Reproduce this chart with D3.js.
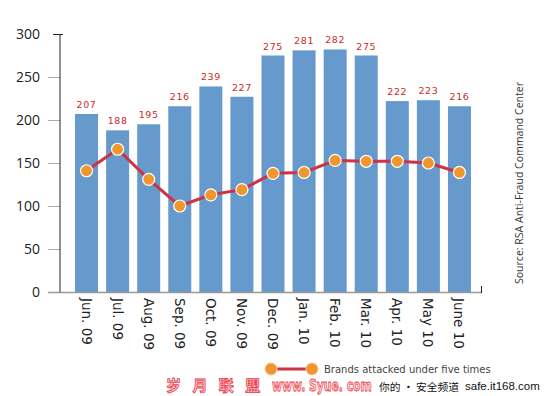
<!DOCTYPE html>
<html>
<head>
<meta charset="utf-8">
<script src="https://cdn.jsdelivr.net/npm/d3@7"></script>
<style>
  body { margin: 0; background: #fff; }
  svg { display: block; }
</style>
</head>
<body>
<div id="chart"></div>
<script>
const months = ["Jun. 09", "Jul. 09", "Aug. 09", "Sep. 09", "Oct. 09", "Nov. 09",
  "Dec. 09", "Jan. 10", "Feb. 10", "Mar. 10", "Apr. 10", "May 10", "June 10"];
const brandsAttacked = [207, 188, 195, 216, 239, 227, 275, 281, 282, 275, 222, 223, 216];
const underFive = [141, 166, 131, 100, 113, 119, 138, 139, 153, 152, 152, 150, 139];
const yTicks = [0, 50, 100, 150, 200, 250, 300];

const width = 546, height = 396;

const svg = d3.select("#chart").append("svg")
  .attr("width", width)
  .attr("height", height)
  .attr("viewBox", `0 0 ${width} ${height}`);

const x = d3.scaleBand()
  .domain(months)
  .range([71, 475])
  .paddingInner(0.26)
  .paddingOuter(0.13);

const y = d3.scaleLinear().domain([0, 300]).range([292, 34]);

// y axis
const yAxis = svg.append("g").attr("transform", "translate(60,0)")
  .call(d3.axisLeft(y).tickValues(yTicks).tickSize(12).tickPadding(8));
yAxis.select(".domain").remove();
yAxis.selectAll(".tick line").attr("stroke", "#aaa");
yAxis.selectAll(".tick text")
  .attr("font-family", "Open Sans, DejaVu Sans, sans-serif")
  .attr("font-size", 14)
  .attr("fill", "#222");
yAxis.selectAll(".tick").filter(d => d === 300).select("line")
  .attr("stroke", "#222").attr("x1", 3).attr("x2", -7);

svg.append("line")
  .attr("x1", 60).attr("x2", 60).attr("y1", y(300)).attr("y2", y(0))
  .attr("stroke", "#222").attr("stroke-width", 1);

// bars
svg.append("g").selectAll("rect")
  .data(brandsAttacked)
  .join("rect")
  .attr("x", (d, i) => x(months[i]))
  .attr("y", d => y(d))
  .attr("width", x.bandwidth())
  .attr("height", d => y(0) - y(d))
  .attr("fill", "#6699cc");

// baseline
svg.append("line")
  .attr("x1", 48).attr("x2", 482).attr("y1", y(0) + 0.5).attr("y2", y(0) + 0.5)
  .attr("stroke", "#999").attr("stroke-width", 1.5);
svg.append("line")
  .attr("x1", 481.5).attr("x2", 481.5).attr("y1", y(0) - 6).attr("y2", y(0) + 1)
  .attr("stroke", "#222");

// bar value labels
svg.append("g").selectAll("text")
  .data(brandsAttacked)
  .join("text")
  .attr("x", (d, i) => x(months[i]) + x.bandwidth() / 2)
  .attr("y", d => y(d) - 6)
  .attr("text-anchor", "middle")
  .attr("font-family", "DejaVu Sans, sans-serif")
  .attr("font-size", 9.5)
  .attr("letter-spacing", 0.6)
  .attr("fill", "#cc2b2b")
  .text(d => d);

// x labels rotated
svg.append("g").selectAll("text")
  .data(months)
  .join("text")
  .attr("transform", d => `translate(${x(d) + x.bandwidth() / 2 - 5},298) rotate(90)`)
  .attr("font-family", "DejaVu Sans, sans-serif")
  .attr("font-size", 13.5)
  .attr("fill", "#222")
  .text(d => d);

// line series
const cx = (d, i) => x(months[i]) + x.bandwidth() / 2;
const line = d3.line().x(cx).y(d => y(d));
svg.append("path")
  .datum(underFive)
  .attr("d", line)
  .attr("fill", "none")
  .attr("stroke", "#cc3344")
  .attr("stroke-width", 3);
svg.append("g").selectAll("circle")
  .data(underFive)
  .join("circle")
  .attr("cx", cx)
  .attr("cy", d => y(d))
  .attr("r", 6)
  .attr("fill", "#f0962e")
  .attr("stroke", "#fff")
  .attr("stroke-width", 1.2);

// source
svg.append("text")
  .attr("transform", "translate(523,284) rotate(-90)")
  .attr("font-family", "Open Sans, DejaVu Sans, sans-serif")
  .attr("font-size", 10)
  .attr("fill", "#333")
  .attr("textLength", 202)
  .attr("lengthAdjust", "spacingAndGlyphs")
  .text("Source: RSA Anti-Fraud Command Center");

// legend
const lg = svg.append("g");
lg.append("line")
  .attr("x1", 271).attr("x2", 312).attr("y1", 369).attr("y2", 369)
  .attr("stroke", "#cc3344").attr("stroke-width", 3);
lg.selectAll("circle").data([271, 312]).join("circle")
  .attr("cx", d => d).attr("cy", 369).attr("r", 6)
  .attr("fill", "#f0962e").attr("stroke", "#fbc88a").attr("stroke-width", 1);
lg.append("text")
  .attr("x", 324).attr("y", 372.5)
  .attr("font-family", "DejaVu Sans, sans-serif")
  .attr("font-size", 10)
  .attr("fill", "#444")
  .text("Brands attacked under five times");

// watermarks
svg.append("text")
  .attr("x", 166).attr("y", 391)
  .attr("font-family", "Noto Sans CJK SC, sans-serif")
  .attr("font-size", 15)
  .attr("font-weight", "bold")
  .attr("fill", "#ffd6d6")
  .attr("stroke", "#e83a4a")
  .attr("stroke-width", 0.8)
  .attr("letter-spacing", 4)
  .text("岁 月 联 盟");
svg.append("text")
  .attr("transform", "translate(272,391) scale(0.72,1)")
  .attr("font-family", "DejaVu Sans, sans-serif")
  .attr("font-size", 15)
  .attr("font-weight", "bold")
  .attr("fill", "#ffd6d6")
  .attr("stroke", "#e83a4a")
  .attr("stroke-width", 0.8)
  .text("www. Syue. com");
svg.append("text")
  .attr("x", 379).attr("y", 390.5)
  .attr("font-family", "Noto Sans CJK SC, sans-serif")
  .attr("font-size", 10.5)
  .attr("fill", "#111")
  .attr("textLength", 80)
  .attr("lengthAdjust", "spacingAndGlyphs")
  .text("你的 • 安全频道");
svg.append("text")
  .attr("x", 465).attr("y", 390)
  .attr("font-family", "Liberation Sans, Arial, sans-serif")
  .attr("font-size", 11.5)
  .attr("fill", "#111")
  .text("safe.it168.com");
</script>
</body>
</html>
